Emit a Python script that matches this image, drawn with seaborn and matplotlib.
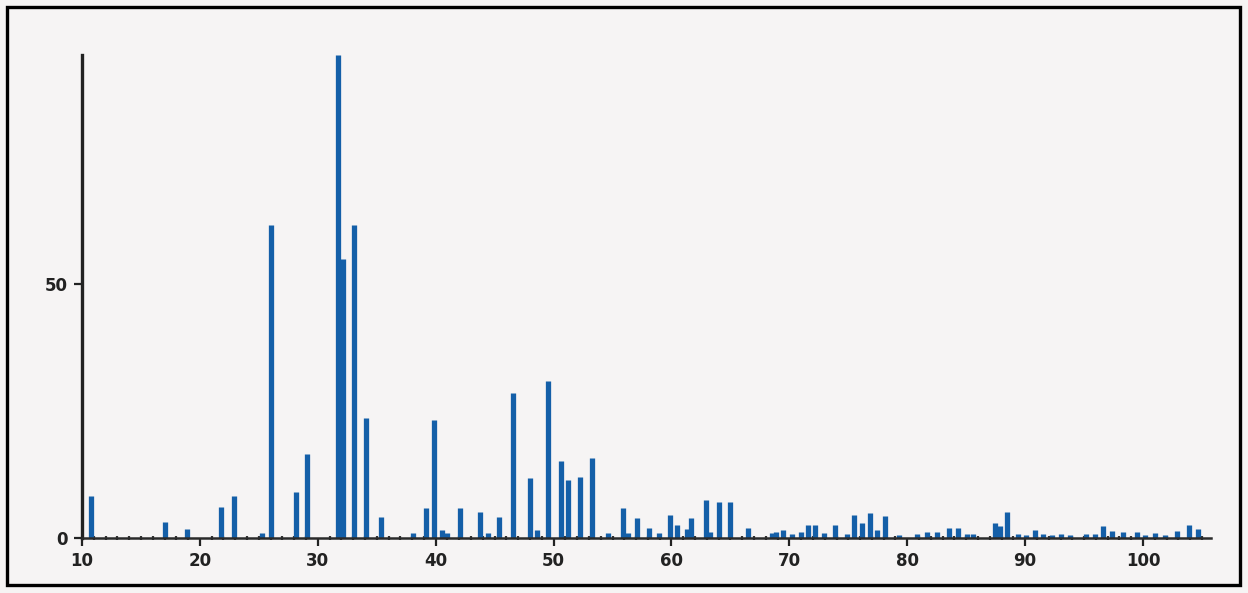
import matplotlib
matplotlib.use("Agg")
import matplotlib.pyplot as plt
import seaborn as sns
import numpy as np
from matplotlib.patches import Rectangle
from matplotlib.ticker import MultipleLocator

# Peak positions (2-theta) and relative intensities
two_theta = [10.8, 17.0, 18.9, 21.8, 22.9, 25.3, 26.0, 28.15, 29.1, 31.7,
             32.1, 33.1, 34.1, 35.4, 38.1, 39.2, 39.85, 40.5, 41.0, 42.1,
             43.8, 44.4, 45.4, 46.6, 48.0, 48.6, 49.5, 50.6, 51.2, 52.2,
             53.3, 54.6, 55.9, 56.3, 57.1, 58.1, 58.9, 59.9, 60.5, 61.3,
             61.65, 62.9, 63.3, 64.0, 65.0, 66.5, 68.5, 68.9, 69.5, 70.2,
             71.0, 71.6, 72.2, 72.9, 73.9, 74.9, 75.5, 76.2, 76.8, 77.4,
             78.1, 79.3, 80.8, 81.7, 82.5, 83.5, 84.3, 85.1, 85.6, 87.4,
             87.9, 88.5, 89.4, 90.1, 90.8, 91.5, 92.3, 93.0, 93.8, 95.2,
             95.9, 96.6, 97.4, 98.3, 99.5, 100.2, 101.0, 101.9, 102.9, 103.9,
             104.7]
intensity = [8.3, 3.2, 1.8, 6.1, 8.3, 1.0, 61.6, 9.0, 16.5, 95.0,
             54.9, 61.6, 23.6, 4.1, 1.0, 5.9, 23.2, 1.6, 1.0, 5.9,
             5.2, 1.0, 4.1, 28.5, 11.8, 1.6, 30.9, 15.2, 11.4, 12.0,
             15.7, 1.0, 5.9, 1.0, 3.9, 2.0, 1.0, 4.5, 2.6, 1.7,
             3.9, 7.5, 1.2, 7.1, 7.1, 2.0, 1.0, 1.2, 1.6, 0.8,
             1.2, 2.5, 2.5, 1.0, 2.6, 0.8, 4.6, 3.0, 4.9, 1.5,
             4.4, 0.5, 0.8, 1.2, 1.2, 2.0, 2.0, 0.8, 0.8, 3.0,
             2.4, 5.2, 0.8, 0.6, 1.5, 0.8, 0.6, 0.8, 0.5, 0.8,
             0.8, 2.4, 1.3, 1.2, 1.2, 0.6, 1.0, 0.6, 1.3, 2.6,
             1.8]

x_ticks = [10, 20, 30, 40, 50, 60, 70, 80, 90, 100]
y_ticks = [0, 50]

sns.set_theme(style="white")
plt.rcParams['font.family'] = ['DejaVu Sans']

fig = plt.figure(figsize=(12.48, 5.93), dpi=100)
fig.patch.set_facecolor("#f6f4f4")
ax = fig.add_axes([0.0657, 0.0927, 0.905, 0.814])
ax.set_facecolor("none")

ax.vlines(two_theta, 0, intensity, color="#145fa8", linewidth=3.8)

ax.set_xlim(10, 105.8)
ax.set_ylim(0, 95)
ax.set_xticks(x_ticks)
ax.set_yticks(y_ticks)
ax.xaxis.set_minor_locator(MultipleLocator(1))

for s in ["top", "right"]:
    ax.spines[s].set_visible(False)
ax.spines["left"].set_linewidth(2.4)
ax.spines["left"].set_color("#222222")
ax.spines["bottom"].set_linewidth(1.8)
ax.spines["bottom"].set_color("#2a2a2a")

ax.tick_params(axis="both", which="major", direction="out", length=6,
               width=1.6, color="#222222", labelsize=12, pad=4,
               bottom=True, left=True)
ax.tick_params(axis="x", which="minor", direction="inout", length=3.5,
               width=1.6, color="#333333", bottom=True)
for lab in ax.get_xticklabels() + ax.get_yticklabels():
    lab.set_fontweight("bold")
    lab.set_color("#222222")

# scanned page border
fig.patches.append(Rectangle((7 / 1248, 8 / 593), 1233 / 1248, 578 / 593,
                             transform=fig.transFigure, fill=False,
                             edgecolor="black", linewidth=2.4))

fig.savefig("out.png", dpi=100, facecolor=fig.get_facecolor())
